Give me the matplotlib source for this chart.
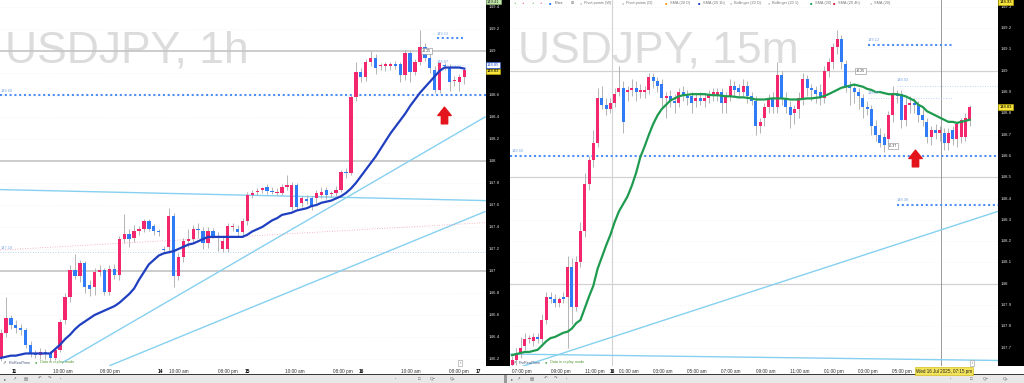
import numpy as np
import matplotlib.pyplot as plt
from matplotlib.patches import Rectangle
from matplotlib.path import Path
from matplotlib.transforms import blended_transform_factory

plt.rcParams['font.family'] = ['Liberation Sans', 'DejaVu Sans']

W, H = 1024, 383

# ---------------- data: USDJPY 1h (left panel) ----------------
h1_open = [146.21, 146.44, 146.57, 146.51, 146.48, 146.46, 146.33, 146.25, 146.24, 146.26,
           146.25, 146.21, 146.28, 146.55, 146.76, 147.01, 146.95, 147.07, 146.87, 146.85,
           146.99, 147.01, 146.81, 147.02, 146.96, 147.29, 147.34, 147.30, 147.36, 147.38,
           147.45, 147.41, 147.36, 147.20, 147.22, 147.50, 146.95, 147.13, 147.27, 147.29,
           147.38, 147.36, 147.25, 147.36, 147.32, 147.20, 147.20, 147.40, 147.38, 147.35,
           147.45, 147.69, 147.72, 147.74, 147.76, 147.73, 147.71, 147.71, 147.76, 147.58,
           147.78, 147.62, 147.65, 147.66, 147.66, 147.69, 147.74, 147.70, 147.71, 147.74,
           147.90, 147.89, 148.58, 148.81, 148.76, 148.90, 148.94, 148.86, 148.86, 148.86,
           148.88, 148.88, 148.78, 148.98, 148.81, 148.90, 149.04, 148.94, 148.83, 148.65,
           148.87, 148.85, 148.73, 148.72, 148.76]
h1_high = [146.47, 146.76, 146.60, 146.55, 146.52, 146.48, 146.36, 146.28, 146.30, 146.29,
           146.27, 146.30, 146.56, 146.80, 147.05, 147.15, 147.10, 147.09, 146.92, 147.03,
           147.05, 147.03, 147.05, 147.06, 147.32, 147.52, 147.38, 147.42, 147.41, 147.47,
           147.47, 147.43, 147.38, 147.23, 147.57, 147.53, 147.16, 147.30, 147.38, 147.42,
           147.44, 147.40, 147.40, 147.39, 147.35, 147.31, 147.44, 147.44, 147.42, 147.48,
           147.72, 147.74, 147.75, 147.76, 147.79, 147.76, 147.75, 147.79, 147.87, 147.81,
           147.80, 147.68, 147.69, 147.68, 147.74, 147.76, 147.76, 147.73, 147.77, 147.92,
           147.94, 148.60, 148.90, 148.85, 148.93, 149.00, 148.97, 148.89, 148.90, 148.90,
           148.91, 148.90, 149.01, 149.00, 148.93, 149.19, 149.07, 148.97, 148.86, 148.90,
           148.89, 148.88, 148.77, 148.79, 148.85]
h1_low = [146.18, 146.40, 146.47, 146.44, 146.42, 146.30, 146.22, 146.21, 146.20, 146.20,
          146.18, 146.19, 146.26, 146.52, 146.72, 146.93, 146.90, 146.80, 146.77, 146.78,
          146.95, 146.78, 146.78, 146.93, 146.92, 147.25, 147.22, 147.26, 147.33, 147.35,
          147.36, 147.33, 147.32, 147.17, 147.16, 146.85, 146.92, 147.08, 147.22, 147.26,
          147.30, 147.20, 147.21, 147.30, 147.18, 147.17, 147.17, 147.36, 147.31, 147.31,
          147.42, 147.66, 147.69, 147.71, 147.70, 147.70, 147.69, 147.69, 147.74, 147.55,
          147.55, 147.58, 147.61, 147.55, 147.62, 147.66, 147.65, 147.67, 147.68, 147.72,
          147.85, 147.87, 148.55, 148.72, 148.73, 148.86, 148.79, 148.83, 148.82, 148.83,
          148.84, 148.72, 148.74, 148.72, 148.78, 148.87, 148.91, 148.80, 148.62, 148.62,
          148.83, 148.64, 148.68, 148.64, 148.70]
h1_close = [146.44, 146.57, 146.51, 146.48, 146.46, 146.33, 146.25, 146.24, 146.26, 146.25,
            146.21, 146.28, 146.54, 146.76, 147.01, 146.95, 147.07, 146.85, 146.84, 146.99,
            147.01, 146.81, 147.02, 146.96, 147.29, 147.34, 147.29, 147.36, 147.38, 147.45,
            147.38, 147.36, 147.35, 147.19, 147.50, 146.95, 147.13, 147.27, 147.29, 147.38,
            147.37, 147.25, 147.36, 147.32, 147.30, 147.27, 147.41, 147.41, 147.35, 147.45,
            147.69, 147.71, 147.73, 147.75, 147.73, 147.72, 147.71, 147.76, 147.78, 147.78,
            147.58, 147.66, 147.64, 147.58, 147.71, 147.72, 147.69, 147.71, 147.74, 147.90,
            147.89, 148.58, 148.81, 148.76, 148.90, 148.94, 148.85, 148.86, 148.88, 148.88,
            148.86, 148.78, 148.98, 148.81, 148.90, 149.04, 148.94, 148.85, 148.65, 148.89,
            148.86, 148.72, 148.74, 148.76, 148.83]
h1_sma = [146.21, 146.22, 146.23, 146.23, 146.24, 146.25, 146.25, 146.25, 146.25, 146.25,
          146.25, 146.29, 146.33, 146.38, 146.42, 146.47, 146.51, 146.54, 146.57, 146.60,
          146.62, 146.64, 146.66, 146.68, 146.71, 146.75, 146.79, 146.84, 146.92, 146.99,
          147.06, 147.10, 147.14, 147.16, 147.17, 147.18, 147.20, 147.22, 147.24, 147.25,
          147.27, 147.29, 147.31, 147.31, 147.31, 147.31, 147.31, 147.31, 147.31, 147.31,
          147.33, 147.36, 147.38, 147.40, 147.43, 147.46, 147.48, 147.51, 147.52, 147.53,
          147.55, 147.56, 147.57, 147.59, 147.60, 147.62, 147.63, 147.64, 147.66, 147.68,
          147.71, 147.75, 147.80, 147.86, 147.92, 147.98, 148.04, 148.11, 148.18, 148.25,
          148.31, 148.37, 148.43, 148.50, 148.56, 148.62, 148.67, 148.72, 148.77, 148.82,
          148.85, 148.85, 148.85, 148.85, 148.84]
h1_tick_pos = [2.8, 12.6, 22.1, 32.3, 36.1, 46.0, 49.9, 59.6, 69.4, 73.2, 83.2, 92.9, 96.8]
h1_tick_lab = ['11', '10:00 am', '08:00 pm', '14', '10:00 am', '08:00 pm', '15',
               '10:00 am', '08:00 pm', '16', '10:00 am', '08:00 pm', '17']
h1_price_ticks = [149.4, 149.2, 149.0, 148.8, 148.6, 148.4, 148.2, 148.0, 147.8,
                  147.6, 147.4, 147.2, 147.0, 146.8, 146.6, 146.4, 146.2]
h1_price_lab = ['149.4', '149.2', '149', '148.8', '148.6', '148.4', '148.2', '148', '147.8',
                '147.6', '147.4', '147.2', '147', '146.8', '146.6', '146.4', '146.2']
h1_trends = [((-0.2, 147.74), (98.4, 147.64)),
             ((12.6, 146.17), (98.2, 148.40)),
             ((22.1, 146.14), (98.2, 147.54))]

# ---------------- data: USDJPY 15m (right panel) ----------------
m15_open = [147.62, 147.64, 147.67, 147.71, 147.74, 147.73, 147.75, 147.74, 147.83, 147.94,
            147.93, 147.91, 147.94, 147.94, 148.08, 147.89, 148.10, 148.25, 148.47, 148.58,
            148.66, 148.87, 148.84, 148.82, 148.85, 148.90, 148.92, 148.90, 148.91, 148.92,
            148.90, 148.90, 148.91, 148.97, 148.95, 148.94, 148.87, 148.88, 148.86, 148.85,
            148.90, 148.88, 148.88, 148.86, 148.87, 148.86, 148.87, 148.89, 148.88, 148.90,
            148.85, 148.88, 148.93, 148.92, 148.90, 148.93, 148.88, 148.86, 148.74, 148.78,
            148.83, 148.87, 148.83, 148.98, 148.87, 148.83, 148.80, 148.82, 148.87, 148.96,
            148.92, 148.91, 148.90, 148.87, 149.00, 149.04, 149.11, 149.15, 149.03, 148.93,
            148.92, 148.90, 148.87, 148.83, 148.82, 148.74, 148.70, 148.69, 148.68, 148.79,
            148.89, 148.89, 148.77, 148.84, 148.85, 148.84, 148.79, 148.76, 148.69, 148.72,
            148.71, 148.71, 148.66, 148.72, 148.68, 148.69, 148.69, 148.77]
m15_high = [147.66, 147.70, 147.75, 147.77, 147.76, 147.77, 147.77, 147.86, 147.96, 147.96,
            147.95, 147.94, 147.96, 148.13, 148.12, 148.13, 148.29, 148.52, 148.60, 148.72,
            148.92, 148.93, 148.87, 148.87, 148.92, 149.02, 148.95, 148.93, 148.96, 148.95,
            148.94, 148.93, 148.99, 148.99, 148.97, 148.96, 148.90, 148.91, 148.89, 148.92,
            148.93, 148.91, 148.90, 148.89, 148.90, 148.89, 148.91, 148.92, 148.92, 148.92,
            148.90, 148.96, 148.95, 148.94, 148.96, 148.95, 148.90, 148.88, 148.78, 148.85,
            148.89, 148.90, 149.04, 149.00, 148.90, 148.86, 148.84, 148.90, 148.99, 148.98,
            148.94, 148.93, 148.94, 149.02, 149.06, 149.13, 149.19, 149.17, 149.05, 148.95,
            148.94, 148.92, 148.89, 148.86, 148.84, 148.77, 148.73, 148.71, 148.81, 148.93,
            148.91, 148.91, 148.87, 148.88, 148.87, 148.86, 148.82, 148.78, 148.74, 148.75,
            148.74, 148.73, 148.73, 148.74, 148.76, 148.78, 148.80, 148.84]
m15_low = [147.60, 147.62, 147.65, 147.69, 147.72, 147.71, 147.72, 147.72, 147.81, 147.91,
           147.89, 147.89, 147.91, 147.70, 147.81, 147.87, 148.08, 148.22, 148.44, 148.55,
           148.64, 148.82, 148.79, 148.80, 148.83, 148.88, 148.71, 148.86, 148.88, 148.86,
           148.87, 148.87, 148.89, 148.92, 148.90, 148.83, 148.78, 148.83, 148.80, 148.83,
           148.86, 148.84, 148.80, 148.83, 148.84, 148.83, 148.85, 148.86, 148.86, 148.80,
           148.80, 148.86, 148.88, 148.87, 148.88, 148.85, 148.84, 148.70, 148.71, 148.74,
           148.80, 148.80, 148.80, 148.84, 148.80, 148.73, 148.75, 148.78, 148.84, 148.88,
           148.86, 148.85, 148.84, 148.85, 148.97, 149.01, 149.08, 149.01, 148.90, 148.84,
           148.85, 148.82, 148.78, 148.79, 148.70, 148.67, 148.64, 148.62, 148.65, 148.76,
           148.85, 148.73, 148.74, 148.80, 148.80, 148.76, 148.74, 148.66, 148.65, 148.68,
           148.67, 148.63, 148.63, 148.65, 148.64, 148.66, 148.67, 148.74]
m15_close = [147.64, 147.67, 147.70, 147.74, 147.74, 147.75, 147.74, 147.83, 147.94, 147.93,
             147.91, 147.93, 147.93, 148.08, 147.89, 148.10, 148.25, 148.47, 148.58, 148.66,
             148.87, 148.84, 148.82, 148.85, 148.89, 148.92, 148.76, 148.91, 148.92, 148.90,
             148.91, 148.91, 148.97, 148.95, 148.93, 148.87, 148.88, 148.86, 148.85, 148.90,
             148.88, 148.87, 148.85, 148.87, 148.86, 148.87, 148.89, 148.90, 148.90, 148.85,
             148.88, 148.93, 148.91, 148.90, 148.93, 148.88, 148.86, 148.74, 148.76, 148.83,
             148.87, 148.83, 148.98, 148.87, 148.83, 148.79, 148.82, 148.87, 148.96, 148.92,
             148.91, 148.89, 148.87, 149.00, 149.04, 149.11, 149.15, 149.04, 148.93, 148.92,
             148.90, 148.88, 148.83, 148.82, 148.74, 148.70, 148.66, 148.65, 148.79, 148.89,
             148.88, 148.77, 148.84, 148.85, 148.84, 148.79, 148.77, 148.69, 148.72, 148.71,
             148.72, 148.66, 148.71, 148.68, 148.75, 148.77, 148.78, 148.83]
m15_sma = [147.665, 147.67, 147.675, 147.68, 147.68, 147.685, 147.69, 147.71, 147.73, 147.745,
           147.75, 147.76, 147.77, 147.775, 147.79, 147.815, 147.83, 147.885, 147.94, 147.99,
           148.07, 148.125, 148.18, 148.23, 148.29, 148.34, 148.375, 148.41, 148.46, 148.52,
           148.595, 148.645, 148.70, 148.75, 148.79, 148.82, 148.84, 148.86, 148.87, 148.88,
           148.885, 148.887, 148.89, 148.89, 148.89, 148.89, 148.887, 148.885, 148.885, 148.883,
           148.88, 148.88, 148.878, 148.875, 148.875, 148.873, 148.87, 148.865, 148.865, 148.865,
           148.868, 148.87, 148.87, 148.87, 148.868, 148.865, 148.865, 148.865, 148.868, 148.87,
           148.87, 148.873, 148.875, 148.882, 148.89, 148.90, 148.91, 148.92, 148.925, 148.93,
           148.935, 148.93, 148.925, 148.915, 148.91, 148.90, 148.90, 148.895, 148.89, 148.89,
           148.89, 148.885, 148.88, 148.87, 148.86, 148.84, 148.83, 148.81, 148.80, 148.79,
           148.78, 148.77, 148.76, 148.76, 148.755, 148.76, 148.765, 148.77]
m15_tick_pos = [2.3, 11.4, 19.4, 23.4, 27.3, 35.3, 43.2, 51.2, 59.4, 67.3, 75.2, 83.2, 91.1]
m15_tick_lab = ['07:00 pm', '09:00 pm', '11:00 pm', '16', '01:00 am', '03:00 am', '05:00 am',
                '07:00 am', '09:00 am', '11:00 am', '01:00 pm', '03:00 pm', '05:00 pm']
m15_price_ticks = [149.3, 149.2, 149.1, 149.0, 148.9, 148.8, 148.7, 148.6, 148.5,
                   148.4, 148.3, 148.2, 148.1, 148.0, 147.9, 147.8, 147.7]
m15_price_lab = ['149.3', '149.2', '149.1', '149', '148.9', '148.8', '148.7', '148.6', '148.5',
                 '148.4', '148.3', '148.2', '148.1', '148', '147.9', '147.8', '147.7']
m15_trends = [((-0.47, 147.67), (113.6, 147.64)),
              ((-1.0, 147.59), (113.6, 148.34))]

PINK = '#f2276e'
BLUE = '#2f7cf6'
LEVEL = '#4f8ef7'
TREND = '#86d0f0'


def fig_xy(px, py):
    return px / W, 1 - py / H


def candles(ax, o, h, l, c, width, min_body):
    o, h, l, c = map(np.asarray, (o, h, l, c))
    x = np.arange(len(o))
    col = np.where(c >= o, PINK, BLUE)
    ax.vlines(x, l, h, color='#a8a8a8', lw=0.6, zorder=2)
    body = np.maximum(np.abs(c - o), min_body)
    ax.bar(x, body, width, bottom=np.minimum(o, c), color=col, lw=0, zorder=3)


def level(ax, y, x0, x1, strong=True):
    if strong:
        ax.plot([x0, x1], [y, y], color=LEVEL, lw=1.5, ls=(0, (1, 1.3)), zorder=1.6)
    else:
        ax.plot([x0, x1], [y, y], color='#a9c4f0', lw=0.6, ls=(0, (1, 2)), zorder=1.6)


def small_label(ax, x, y, s):
    ax.text(x, y, s, fontsize=2.8, color='#7fa7e8', ha='left', va='bottom', zorder=5)


def up_arrow():
    verts = [(-0.38, -1), (0.38, -1), (0.38, 0.0), (0.8, 0.0), (0, 1), (-0.8, 0.0),
             (-0.38, 0.0), (-0.38, -1)]
    codes = [Path.MOVETO] + [Path.LINETO] * 6 + [Path.CLOSEPOLY]
    return Path(verts, codes)


def price_strip(strip, ticks, labels):
    strip.set_facecolor('black')
    strip.set_xticks([])
    strip.tick_params(axis='y', left=False, labelleft=False)
    for s in strip.spines.values():
        s.set_visible(False)
    tr = blended_transform_factory(strip.transAxes, strip.transData)
    for v, s in zip(ticks, labels):
        strip.text(0.12, v, s, transform=tr, color='#d8d8d8', fontsize=3.2,
                   ha='left', va='center')
    return tr


def style_main(ax, tick_pos, tick_lab):
    for s in ax.spines.values():
        s.set_visible(False)
    ax.set_yticks([])
    ax.set_xticks(tick_pos, tick_lab)
    ax.tick_params(axis='x', length=0, pad=2.2, labelsize=3.4, colors='#333333')
    for t in ax.get_xticklabels():
        if len(t.get_text()) <= 2:
            t.set_fontweight('bold')
            t.set_color('black')


fig = plt.figure(figsize=(W / 100, H / 100), dpi=100)
fig.patch.set_facecolor('white')

bottom = 1 - 366 / H
height = 366 / H
axL = fig.add_axes([0, bottom, 486 / W, height])
stripL = fig.add_axes([486 / W, bottom, 24 / W, height], sharey=axL)
axR = fig.add_axes([510 / W, bottom, 488 / W, height])
stripR = fig.add_axes([998 / W, bottom, 26 / W, height], sharey=axR)

# ---------------- left panel ----------------
axL.set_xlim(-0.2, 98.4)
axL.set_ylim(146.136, 149.464)
for v in h1_price_ticks:
    if abs(v - round(v)) < 1e-6:
        axL.axhline(v, color='#c4c4c4', lw=1.2, zorder=1)
    else:
        axL.axhline(v, color='#e6e6e6', lw=0.5, ls=(0, (1, 3)), zorder=1)
axL.text(5 / 486, 1 - 62 / 366, 'USDJPY, 1h', transform=axL.transAxes, fontsize=32,
         color='#dcdcdc', ha='left', va='baseline', zorder=0.5)
for (x0, y0), (x1, y1) in h1_trends:
    axL.plot([x0, x1], [y0, y1], color=TREND, lw=1.0, zorder=1.5)
axL.plot([-0.2, 98.4], [147.19, 147.44], color='#f2a0b4', lw=0.6, ls=(0, (1, 2)), zorder=1.5)
level(axL, 147.17, -0.2, 98.4, strong=False)
level(axL, 148.60, -0.2, 98.4)
level(axL, 149.12, 88.4, 93.7)
level(axL, 148.87, 88.4, 93.7, strong=False)
small_label(axL, 0.0, 148.615, '148.60')
small_label(axL, 0.0, 147.19, '147.18')
small_label(axL, 88.4, 149.135, '149.12')
small_label(axL, 88.4, 148.885, '148.87')
candles(axL, h1_open, h1_high, h1_low, h1_close, 0.68, 0.009)
axL.plot(np.arange(len(h1_sma)), h1_sma, color='#1f3fc0', lw=1.6, zorder=4)
axL.text(86.4, 149.0, '+0.25', fontsize=2.6, color='#333', ha='center', va='center', zorder=6,
         bbox=dict(boxstyle='square,pad=0.25', fc='white', ec='#888888', lw=0.4))
axL.plot(89.9, 148.42, marker=up_arrow(), ms=12, color='#e3141c', mec='#e3141c', zorder=6)
style_main(axL, h1_tick_pos, h1_tick_lab)

trL = price_strip(stripL, h1_price_ticks, h1_price_lab)
stripL.text(0.05, 148.87, '148.85', transform=trL, fontsize=3, color='#2f5fd0', ha='left',
            va='center', zorder=6, bbox=dict(boxstyle='square,pad=0.2', fc='white', ec='#2f5fd0', lw=0.5))
stripL.text(0.05, 148.815, '148.83', transform=trL, fontsize=3, color='black', ha='left',
            va='center', zorder=6, bbox=dict(boxstyle='square,pad=0.2', fc='#f7e43a', ec='#c9b400', lw=0.4))
stripL.text(0.05, 149.45, '149.41', transform=trL, fontsize=3, color='#333', ha='left',
            va='center', zorder=6, bbox=dict(boxstyle='square,pad=0.2', fc='#bfe5a6', ec='#9ccc7c', lw=0.4))

# ---------------- right panel ----------------
axR.set_xlim(-0.47, 113.6)
axR.set_ylim(147.614, 149.332)
for v in m15_price_ticks:
    if abs(v * 2 - round(v * 2)) < 1e-6:
        axR.axhline(v, color='#d2d2d2', lw=0.9, zorder=1)
    else:
        axR.axhline(v, color='#e6e6e6', lw=0.5, ls=(0, (1, 3)), zorder=1)
axR.axvline(23.4, color='#d2d2d2', lw=0.8, zorder=1)
axR.axvline(100.2, color='#8a8a8a', lw=0.6, zorder=1.2)
axR.text(8 / 488, 1 - 62 / 366, 'USDJPY, 15m', transform=axR.transAxes, fontsize=32,
         color='#dcdcdc', ha='left', va='baseline', zorder=0.5)
for (x0, y0), (x1, y1) in m15_trends:
    axR.plot([x0, x1], [y0, y1], color=TREND, lw=1.0, zorder=1.5)
level(axR, 148.60, -0.47, 113.6)
level(axR, 149.12, 83.2, 102.8)
level(axR, 148.87, 83.2, 103.0, strong=False)
level(axR, 148.93, 90.0, 113.6, strong=False)
level(axR, 148.37, 90.0, 113.6)
small_label(axR, 0.0, 148.615, '148.60')
small_label(axR, 83.2, 149.135, '149.12')
small_label(axR, 83.2, 148.885, '148.87')
small_label(axR, 90.0, 148.945, '148.93')
small_label(axR, 90.0, 148.385, '148.38')
candles(axR, m15_open, m15_high, m15_low, m15_close, 0.7, 0.005)
axR.plot(np.arange(len(m15_sma)), m15_sma, color='#1e9b4f', lw=1.6, zorder=4)
axR.text(81.5, 149.0, '+0.25', fontsize=2.6, color='#333', ha='center', va='center', zorder=6,
         bbox=dict(boxstyle='square,pad=0.25', fc='white', ec='#888888', lw=0.4))
axR.text(89.0, 148.645, '-0.37', fontsize=2.6, color='#333', ha='center', va='center', zorder=6,
         bbox=dict(boxstyle='square,pad=0.25', fc='white', ec='#888888', lw=0.4))
axR.plot(94.2, 148.59, marker=up_arrow(), ms=12, color='#e3141c', mec='#e3141c', zorder=6)
style_main(axR, m15_tick_pos, m15_tick_lab)

trR = price_strip(stripR, m15_price_ticks, m15_price_lab)
stripR.text(0.05, 148.83, '148.83', transform=trR, fontsize=3, color='black', ha='left',
            va='center', zorder=6, bbox=dict(boxstyle='square,pad=0.2', fc='#f7e43a', ec='#c9b400', lw=0.4))
stripR.text(0.05, 149.322, '148.93', transform=trR, fontsize=3, color='black', ha='left',
            va='center', zorder=6, bbox=dict(boxstyle='square,pad=0.2', fc='#f7e43a', ec='#c9b400', lw=0.4))

# legend row of the 15m chart
legend_items = [(514, '+', '#2ca02c'), (522, '+', '#e0213a'), (532, '+', '#2ca02c'),
                (540, '+', '#e0213a'), (549, '■', BLUE), (555, 'Price', '#555555'),
                (571, '⊞', '#777777'), (580, '○', '#999999'), (584, 'Pivot points (W)', '#777777'),
                (622, '○', '#999999'), (626, 'Pivot points (D)', '#777777'),
                (665, '■', '#f0a020'), (670, 'SMA (20 D)', '#777777'),
                (698, '■', '#1f3fc0'), (703, 'SMA (20 1h)', '#777777'),
                (730, '○', '#999999'), (734, 'Bollinger (20 D)', '#777777'),
                (768, '○', '#999999'), (772, 'Bollinger (20 1)', '#777777'),
                (810, '■', '#1e9b4f'), (815, 'SMA (20)', '#777777'),
                (833, '■', '#e0213a'), (838, 'SMA (20 4h)', '#777777'),
                (870, '○', '#999999'), (874, 'SMA (20)', '#777777')]
for px, s, col in legend_items:
    fx, fy = fig_xy(px, 3.2)
    fig.text(fx, fy, s, fontsize=2.8, color=col, ha='left', va='center')

# ProRealTime footers
for off, right in [(0, 486), (510, 998)]:
    fx, fy = fig_xy(off + 3, 362.5)
    fig.text(fx, fy, '⇗', fontsize=3, color='#555', ha='left', va='center')
    fx, fy = fig_xy(off + 9, 362.5)
    fig.text(fx, fy, 'ProRealTime', fontsize=2.8, color='#4a5a80', ha='left', va='center')
    fx, fy = fig_xy(off + 35, 362.5)
    fig.text(fx, fy, '●', fontsize=2.8, color='#3aa03a', ha='left', va='center')
    fx, fy = fig_xy(off + 40, 362.5)
    fig.text(fx, fy, 'Data in replay mode', fontsize=2.8, color='#5a9a3a', ha='left', va='center')
    fx, fy = fig_xy(right - 26, 363)
    fig.text(fx, fy, 'i', fontsize=3, color='#777', ha='center', va='center',
             bbox=dict(boxstyle='square,pad=0.3', fc='white', ec='#999999', lw=0.4))

# date tooltip on the 15m time axis
fx, fy = fig_xy(944, 371)
fig.text(fx, fy, 'Wed 16 Jul 2025, 07:15 pm', fontsize=3.3, color='#222', ha='center',
         va='center', zorder=10,
         bbox=dict(boxstyle='square,pad=0.25', fc='#f3e35a', ec='#c8b400', lw=0.4))

# bottom toolbar
fig.patches.append(Rectangle((0, 0), 1, 8 / H, transform=fig.transFigure,
                             fc='#e8e8e8', ec='none', zorder=1))
fig.patches.append(Rectangle((0, 8 / H), 1, 1 / H, transform=fig.transFigure,
                             fc='#3a3a3a', ec='none', zorder=1))
fig.patches.append(Rectangle((504 / W, 0), 3 / W, 8 / H, transform=fig.transFigure,
                             fc='#9a9a9a', ec='none', zorder=1))
toolbar = [(4, '▸'), (12, '↗'), (24, '▤'), (38, '↶'), (48, '↷'), (60, '‹'), (395, '›'),
           (418, '□'), (430, 'Q−'), (450, 'Q+'), (511, '▸'), (516, '↗'), (530, '▤'),
           (544, '↶'), (554, '↷'), (566, '‹'), (950, '›'), (970, '□'), (983, 'Q−'), (1003, 'Q+')]
for px, s in toolbar:
    fx, fy = fig_xy(px, 379)
    fig.text(fx, fy, s, fontsize=3.2, color='#666666', ha='left', va='center', zorder=2)

fig.savefig('out.png', dpi=100)
